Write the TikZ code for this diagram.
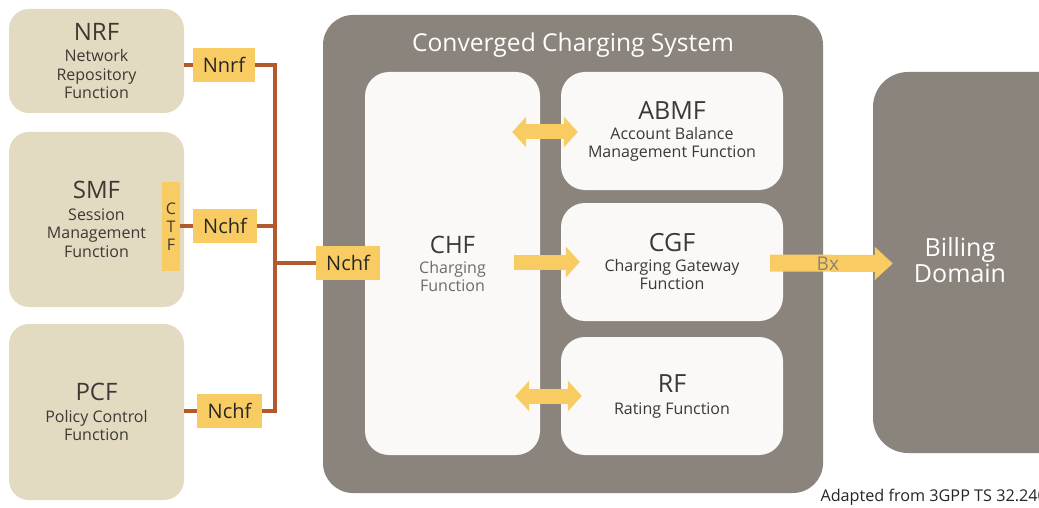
\documentclass[tikz,border=0pt]{standalone}
\usepackage{fontspec}
\setmainfont{Open Sans}
\usetikzlibrary{arrows.meta,calc}

\definecolor{nfbeige}{HTML}{E3DBC1}
\definecolor{ifyellow}{HTML}{F8CC62}
\definecolor{busbrown}{HTML}{B25A2E}
\definecolor{sysgray}{HTML}{8A847D}
\definecolor{fnwhite}{HTML}{FAF9F7}
\definecolor{txtdark}{HTML}{3C3935}
\definecolor{txtsoft}{HTML}{6F6A64}
\definecolor{bxtext}{HTML}{8C8370}

\newcommand\fsz[2]{\fontsize{#1pt}{#2pt}\selectfont}

\begin{document}
\begin{tikzpicture}[x=1pt,y=-1pt,
  nfbox/.style={fill=nfbeige, rounded corners=20pt, inner sep=0pt, align=center,
    text=txtdark, font=\fsz{16}{18.5}},
  ifbox/.style={fill=ifyellow, inner sep=0pt, minimum height=34pt,
    text=black!85, font=\fsz{20}{22}},
  fnbox/.style={fill=fnwhite, rounded corners=24pt, inner sep=0pt, align=center,
    text=txtdark, font=\fsz{16}{18}},
  bus/.style={draw=busbrown, line width=4pt, line join=miter},
  fat/.style={draw=ifyellow, line width=15pt, -{Triangle[width=30pt,length=14pt]}},
  fatboth/.style={draw=ifyellow, line width=15pt,
    {Triangle[width=30pt,length=14pt]}-{Triangle[width=30pt,length=14pt]}},
]
\useasboundingbox (0,0) rectangle (1039,508);
\fill[white] (0,0) rectangle (1039,508);

% network functions on the left
\node[nfbox, minimum width=175pt, minimum height=104pt] (nrf) at (96.5,61)
  {{\fsz{24}{27}NRF}\\[3pt]Network\\Repository\\Function};
\node[nfbox, minimum width=175pt, minimum height=175pt] (smf) at (96.5,219.5)
  {{\fsz{24}{27}SMF}\\[3pt]Session\\Management\\Function};
\node[nfbox, minimum width=175pt, minimum height=176pt] (pcf) at (96.5,412)
  {{\fsz{24}{27}PCF}\\[3pt]Policy Control\\Function};
\node[fill=ifyellow, inner sep=0pt, minimum width=18pt, minimum height=89pt,
  align=center, text=txtdark, font=\fsz{16}{18}] (ctf) at (171,226.5) {C\\T\\F};

% service interfaces
\node[ifbox, minimum width=62pt] (nnrf) at (224,65) {Nnrf};
\node[ifbox, minimum width=64pt] (nchfs) at (225,226) {Nchf};
\node[ifbox, minimum width=65pt] (nchfp) at (229.5,411) {Nchf};

% bus joining the interfaces
\coordinate (bustop) at (275,65);
\coordinate (busbot) at (275,411);
\draw[bus] (nrf.east |- nnrf) -- (nnrf.west);
\draw[bus] (ctf.east |- nchfs) -- (nchfs.west);
\draw[bus] (pcf.east |- nchfp) -- (nchfp.west);
\draw[bus] (nnrf.east) -- (bustop) -- (busbot) -- (nchfp.east);
\draw[bus] (nchfs.east) -- (nchfs.east -| bustop);

% converged charging system
\node[fill=sysgray, rounded corners=30pt, minimum width=500pt, minimum height=478pt,
  inner sep=0pt] (ccs) at (573,254) {};
\node[text=white, font=\fsz{24.6}{28}] (ccstitle) at (573,45) {Converged Charging System};

\node[fnbox, minimum width=175pt, minimum height=383pt, text=txtdark] (chf) at (452.5,263.5)
  {{\fsz{24}{28}CHF}\\[2pt]\textcolor{txtsoft}{Charging}\\\textcolor{txtsoft}{Function}};
\node[fnbox, minimum width=222pt, minimum height=118pt] (abmf) at (672,131)
  {{\fsz{25}{28}ABMF}\\[2pt]Account Balance\\Management Function};
\node[fnbox, minimum width=222pt, minimum height=118pt] (cgf) at (672,262)
  {{\fsz{25}{28}CGF}\\[2pt]Charging Gateway\\Function};
\node[fnbox, minimum width=222pt, minimum height=118pt] (rf) at (672,396)
  {{\fsz{25}{28}RF}\\[4pt]Rating Function};

\node[ifbox, minimum width=64pt] (nchfc) at (348,263) {Nchf};
\draw[bus] (nchfc.west -| bustop) -- (nchfc.west);

% internal exchanges
\draw[fatboth] ($(chf.east |- abmf.west)+(-28,1)$) -- ($(abmf.west)+(17,1)$);
\draw[fat] ($(chf.east |- cgf.west)+(-26,0)$) -- ($(cgf.west)+(19,0)$);
\draw[fatboth] ($(chf.east |- rf.west)+(-25,0)$) -- ($(rf.west)+(21,0)$);

% billing domain
\node[fill=sysgray, rounded corners=35pt, minimum width=220pt, minimum height=381pt,
  inner sep=0pt] (bd) at (983,262.5) {};
\node[text=white, align=center, font=\fsz{25}{26}] (bdtxt) at (960,260) {Billing\\Domain};

\draw[draw=ifyellow, line width=17pt, -{Triangle[width=32pt,length=18pt]}]
  ($(cgf.east)+(-13,1)$) -- ($(bd.west)+(20,1)$)
  node[pos=0.47, text=bxtext, font=\fsz{19}{21}] (bx) {Bx};

\node[anchor=west, text=black!85, font=\fsz{16.2}{19}] (src) at (817,497)
  {Adapted from 3GPP TS 32.240};
\end{tikzpicture}
\end{document}
